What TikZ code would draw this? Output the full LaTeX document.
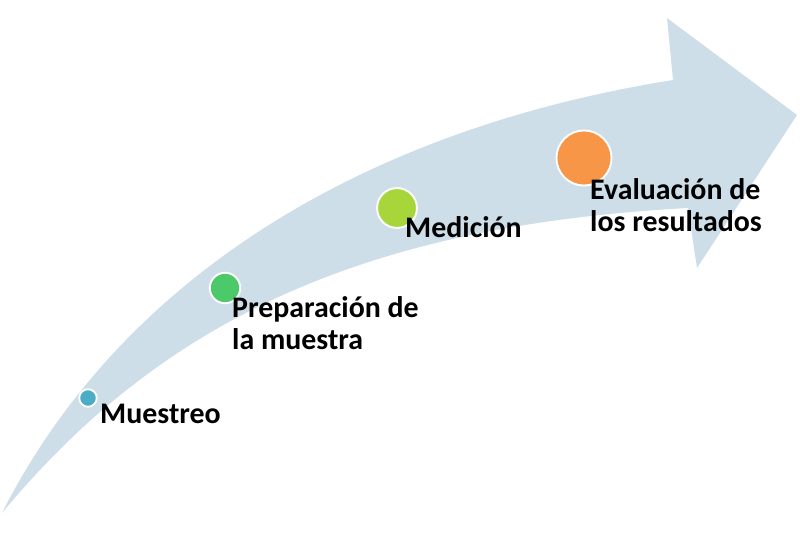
\documentclass[tikz,border=0pt]{standalone}
\usepackage{fontspec}
\setmainfont{Carlito}
\usepackage{tikz}
\usetikzlibrary{positioning}

\definecolor{bandblue}{RGB}{205,222,233}
\definecolor{dotblue}{RGB}{75,172,198}
\definecolor{dotgreen}{RGB}{76,202,106}
\definecolor{dotlime}{RGB}{166,214,58}
\definecolor{dotorange}{RGB}{247,150,70}

\begin{document}
\begin{tikzpicture}[x=0.03cm,y=-0.03cm,
    dot/.style={circle,draw=white,line width=1.6pt,inner sep=0pt},
    step label/.style={inner sep=0pt,align=left,anchor=base west,
      font=\bfseries\fontsize{25.5}{26.5}\selectfont}]
  % picture frame, in pixels of the reference (y downwards)
  \useasboundingbox (0,0) rectangle (800,534);
  % the curved arrow
  \fill[bandblue] (2,513) .. controls (120,280) and (360,130) .. (673,80)
    -- (667,18) -- (797,115) -- (697,268) -- (688,208)
    .. controls (380,225) and (170,310) .. cycle;
  % the four stages (base anchor = last line)
  \node[dot,fill=dotblue,minimum size=15pt] (muestreo dot) at (88,398) {};
  \node[dot,fill=dotgreen,minimum size=26pt] (preparacion dot) at (225,288) {};
  \node[dot,fill=dotlime,minimum size=34pt] (medicion dot) at (397,208) {};
  \node[dot,fill=dotorange,minimum size=47pt] (evaluacion dot) at (584,158) {};
  \node[step label] (muestreo) at (100,423) {Muestreo};
  \node[step label] (preparacion) at (232,349) {Preparación de\\la muestra};
  \node[step label] (medicion) at (405,237) {Medición};
  \node[step label] (evaluacion) at (590,231) {Evaluación de\\los resultados};
\end{tikzpicture}
\end{document}
